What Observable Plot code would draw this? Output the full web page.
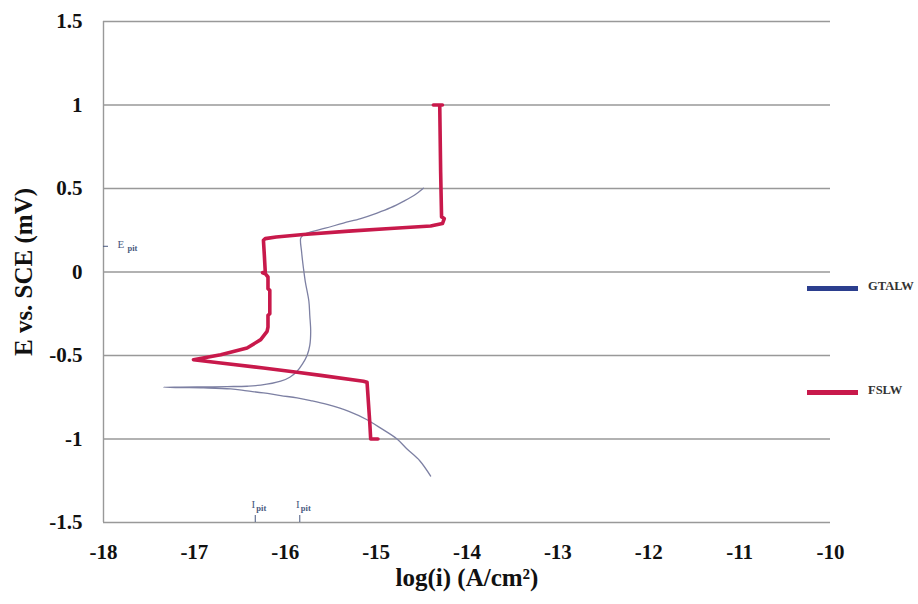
<!DOCTYPE html>
<html>
<head>
<meta charset="utf-8">
<script src="https://cdn.jsdelivr.net/npm/d3@7"></script>
<script src="https://cdn.jsdelivr.net/npm/@observablehq/plot@0.6"></script>
<style>
  html, body { margin: 0; padding: 0; background: #fff; }
  #wrap { position: relative; width: 918px; height: 604px; }
  #wrap svg, #wrap svg text, #wrap svg g { font-family: "Liberation Serif", "DejaVu Serif", serif !important; }
  .leg { position: absolute; font-family: "Liberation Serif", "DejaVu Serif", serif; font-size: 12.5px; color: #333; font-weight: bold; }
  .leg .bar { position: absolute; width: 51px; height: 5px; }
  .leg .lab { position: absolute; left: 61px; top: -7px; white-space: nowrap; }
</style>
</head>
<body>
<div id="wrap"></div>
<script>
// ---- data ----
const seriesNames = ["GTALW", "FSLW"];
const seriesColors = ["#2b3e8e", "#c8194b"];
const lineColors = ["#7d80a3", "#c8194b"];

// GTALW polarization curve (log i, E)
const gtalwLogI = [-14.40, -14.52, -14.66, -14.77, -14.95, -15.10, -15.30, -15.54, -15.72, -15.87, -16.05, -16.24, -16.42, -16.60, -16.90, -17.15, -17.34,
  -17.15, -16.90, -16.64, -16.42, -16.27, -16.05, -15.95, -15.87, -15.81, -15.76, -15.73, -15.72, -15.73, -15.74, -15.78, -15.80, -15.82, -15.83,
  -15.80, -15.76, -15.56, -15.36, -15.17, -14.99, -14.84, -14.70, -14.58, -14.48];
const gtalwE = [-1.222, -1.13, -1.06, -1.0, -0.935, -0.885, -0.835, -0.793, -0.770, -0.754, -0.740, -0.724, -0.712, -0.700, -0.694, -0.692, -0.690,
  -0.689, -0.688, -0.686, -0.684, -0.678, -0.654, -0.630, -0.594, -0.550, -0.500, -0.440, -0.355, -0.260, -0.175, -0.056, 0.024, 0.120, 0.203,
  0.222, 0.233, 0.262, 0.293, 0.320, 0.353, 0.385, 0.423, 0.460, 0.502];

// FSLW polarization curve (log i, E)
const fslwLogI = [-14.37, -14.27, -14.30, -14.29, -14.28, -14.25, -14.27, -14.40, -14.80, -15.30, -15.80, -16.10, -16.22, -16.24, -16.23, -16.22, -16.25, -16.22,
  -16.19, -16.19, -16.17, -16.17, -16.19, -16.19, -16.20, -16.27, -16.42, -16.71, -17.01, -16.71, -16.24, -15.87, -15.61, -15.14, -15.10, -15.07, -15.06, -14.98];
const fslwE = [1.0, 1.0, 1.0, 0.60, 0.33, 0.32, 0.29, 0.275, 0.262, 0.245, 0.225, 0.21, 0.20, 0.19, 0.10, 0.0, -0.005, -0.01,
  -0.03, -0.10, -0.11, -0.25, -0.26, -0.33, -0.355, -0.405, -0.455, -0.495, -0.525, -0.545, -0.575, -0.60, -0.619, -0.654, -0.66, -0.90, -1.0, -1.0];

// axis ticks
const xTicks = [-18, -17, -16, -15, -14, -13, -12, -11, -10];
const xTickLabels = ["-18", "-17", "-16", "-15", "-14", "-13", "-12", "-11", "-10"];
const yTicks = [1.5, 1, 0.5, 0, -0.5, -1, -1.5];
const yTickLabels = ["1.5", "1", "0.5", "0", "-0.5", "-1", "-1.5"];

// annotations
const ePit = [0.154];
const iPit = [-16.33, -15.84];

const xTitle = "log(i) (A/cm\u00B2)";
const yTitle = "E vs. SCE (mV)";

// ---- build rows ----
const gtalw = gtalwLogI.map((x, i) => ({x, y: gtalwE[i], s: seriesNames[0]}));
const fslw = fslwLogI.map((x, i) => ({x, y: fslwE[i], s: seriesNames[1]}));

const serif = "\"Liberation Serif\", \"DejaVu Serif\", serif";
const annColor = "#4a5a80";

const chart = Plot.plot({
  width: 918,
  height: 604,
  marginLeft: 103,
  marginRight: 88,
  marginTop: 21,
  marginBottom: 82,
  style: {fontFamily: serif, background: "#fff", overflow: "visible"},
  x: {type: "linear", domain: [-18, -10], ticks: xTicks},
  y: {type: "linear", domain: [-1.5, 1.5], ticks: yTicks},
  marks: [
    Plot.ruleY(yTicks, {stroke: "#999", strokeWidth: 1.4}),
    Plot.ruleX([xTicks[0]], {stroke: "#999", strokeWidth: 1.4}),
    Plot.axisX({ticks: xTicks, tickSize: 0, tickPadding: 22, fontSize: 21, fontWeight: "bold", label: null, fill: "#111", fontFamily: serif,
      tickFormat: d => xTickLabels[xTicks.indexOf(d)]}),
    Plot.axisY({ticks: yTicks, tickSize: 0, tickPadding: 21, fontSize: 21, fontWeight: "bold", label: null, fill: "#111", fontFamily: serif,
      tickFormat: d => yTickLabels[yTicks.indexOf(d)]}),
    Plot.text([xTitle], {frameAnchor: "bottom", dy: 63, text: d => d, fontSize: 25, fontWeight: "bold", fill: "#111", fontFamily: serif, textAnchor: "middle"}),
    Plot.text([yTitle], {frameAnchor: "left", dx: -80, rotate: -90, text: d => d, fontSize: 25, fontWeight: "bold", fill: "#111", fontFamily: serif, textAnchor: "middle"}),
    // GTALW thin line
    Plot.line(gtalw, {x: "x", y: "y", stroke: lineColors[0], strokeWidth: 1.3, curve: "catmull-rom"}),
    // FSLW thick line
    Plot.line(fslw, {x: "x", y: "y", stroke: lineColors[1], strokeWidth: 3.6, strokeLinejoin: "round"}),
    // E pit annotation
    Plot.ruleY(ePit, {y: d => d, x1: () => xTicks[0], x2: () => xTicks[0], insetRight: -5, stroke: annColor, strokeWidth: 1}),
    Plot.text(ePit, {y: d => d, x: () => xTicks[0], text: () => "E", dx: 14, dy: -2, fontSize: 11, fill: annColor, textAnchor: "start", fontFamily: serif}),
    Plot.text(ePit, {y: d => d, x: () => xTicks[0], text: () => "pit", dx: 24, dy: 2, fontSize: 8.5, fontWeight: "bold", fill: annColor, textAnchor: "start", fontFamily: serif}),
    // I pit annotations
    Plot.ruleX(iPit, {x: d => d, y1: () => -1.5, y2: () => -1.5, insetTop: -7, stroke: annColor, strokeWidth: 1}),
    Plot.text(iPit, {x: d => d, y: () => -1.5, text: () => "I", dy: -18, dx: -2, fontSize: 11, fill: annColor, fontFamily: serif}),
    Plot.text(iPit, {x: d => d, y: () => -1.5, text: () => "pit", dx: 6, dy: -14, fontSize: 8.5, fontWeight: "bold", fill: annColor, fontFamily: serif})
  ]
});

const wrap = document.getElementById("wrap");
wrap.appendChild(chart);

// legend (outside the plot frame, right side)
const legTops = [286, 390];
seriesNames.forEach((name, i) => {
  const d = document.createElement("div");
  d.className = "leg";
  d.style.left = "807px";
  d.style.top = legTops[i] + "px";
  const b = document.createElement("div");
  b.className = "bar";
  b.style.background = seriesColors[i];
  const t = document.createElement("div");
  t.className = "lab";
  t.textContent = name;
  d.appendChild(b); d.appendChild(t);
  wrap.appendChild(d);
});
</script>
</body>
</html>
